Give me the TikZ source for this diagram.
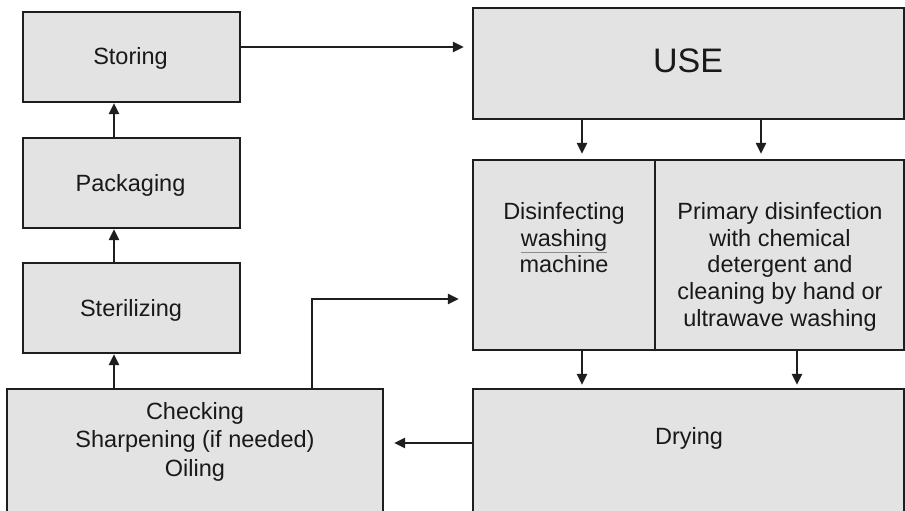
\documentclass[tikz,border=0pt]{standalone}
\usepackage{fontspec}
\setmainfont{Liberation Sans}
\usetikzlibrary{arrows.meta}
\definecolor{boxfill}{HTML}{E3E3E3}
\definecolor{boxline}{HTML}{1E1E1E}
\begin{document}
\begin{tikzpicture}[x=1pt,y=-1pt,
  box/.style={draw=boxline, line width=2.2pt, fill=boxfill, rectangle, inner sep=0pt},
  txt/.style={inner sep=0pt, align=center, text=black!90, font=\fontsize{23.5}{26.8}\selectfont},
  arr/.style={draw=boxline, line width=2.2pt, -{Triangle[length=11pt,width=10pt]}}]
\useasboundingbox (0,0) rectangle (905,511);
\fill[white] (0,0) rectangle (905,511);
\clip (0,0) rectangle (905,511);
% left column
\node[box, minimum width=217pt, minimum height=90pt] (storing) at (131.5,57) {};
\node[box, minimum width=217pt, minimum height=90pt] (packaging) at (131.5,183) {};
\node[box, minimum width=217pt, minimum height=90pt] (sterilizing) at (131.5,308) {};
\node[box, minimum width=376pt, minimum height=171pt] (checking) at (195,474.5) {};
% right column
\node[box, minimum width=431pt, minimum height=111pt] (use) at (688.5,63.5) {};
\node[box, minimum width=182pt, minimum height=190pt] (mleft) at (564,255) {};
\node[box, minimum width=249pt, minimum height=190pt] (mright) at (779.5,255) {};
\node[box, minimum width=431pt, minimum height=171pt] (drying) at (688.5,474.5) {};
% texts
\node[txt, anchor=base] (tstoring) at (130.5,65) {Storing};
\node[txt, anchor=base] (tpack) at (130.5,191) {Packaging};
\node[txt, anchor=base] (tster) at (131,316) {Sterilizing};
\node[txt, anchor=base, font=\fontsize{34}{40}\selectfont] (tuse) at (688,73) {USE};
\node[txt, anchor=north] (tmleft) at (564,202) {Disinfecting\\\textcolor{black!45}{\underline{\textcolor{black!90}{washing}}}\\machine};
\node[txt, anchor=north] (tmright) at (780,202) {Primary disinfection\\with chemical\\detergent and\\cleaning by hand or\\ultrawave washing};
\node[txt, anchor=base] (tdry) at (689,444) {Drying};
\node[txt, anchor=north, font=\fontsize{23.5}{28.5}\selectfont] (tcheck) at (195,402) {Checking\\Sharpening (if needed)\\Oiling};
% connectors
\coordinate (lx) at (114,0);
\coordinate (u1) at (582,0);
\coordinate (u2) at (761,0);
\coordinate (d2) at (797,0);
\coordinate (s1) at ([yshift=10pt]storing.east);
\coordinate (k1) at (312,299);
\coordinate (dy) at (0,443);
\draw[arr] (lx |- packaging.north) -- (lx |- storing.south);
\draw[arr] (lx |- sterilizing.north) -- (lx |- packaging.south);
\draw[arr] (lx |- checking.north) -- (lx |- sterilizing.south);
\draw[arr, shorten >=8pt] (s1) -- (s1 -| use.west);
\draw[arr, shorten >=5pt] (u1 |- use.south) -- (u1 |- mleft.north);
\draw[arr, shorten >=5pt] (u2 |- use.south) -- (u2 |- mright.north);
\draw[arr, shorten >=3pt] (u1 |- mleft.south) -- (u1 |- drying.north);
\draw[arr, shorten >=3pt] (d2 |- mright.south) -- (d2 |- drying.north);
\draw[arr, shorten >=13pt] (k1 |- checking.north) -- (k1) -- (k1 -| mleft.west);
\draw[arr, shorten >=10pt] (dy -| drying.west) -- (dy -| checking.east);
\end{tikzpicture}
\end{document}
